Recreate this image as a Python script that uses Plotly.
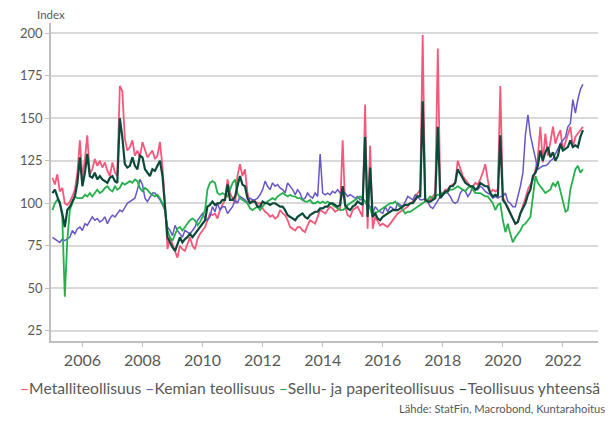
import pandas as pd
import plotly.graph_objects as go

start_month = "2005-01-01"

series_names = ["Metalliteollisuus", "Kemian teollisuus",
                "Sellu- ja paperiteollisuus", "Teollisuus yhteensä"]

metalli = [
    115, 111, 117, 107, 109, 100, 99, 101, 104, 108, 118, 137,
    115, 126, 140, 117, 120, 126, 122, 125, 121, 124, 119, 116,
    124, 118, 116, 169, 166, 138, 131, 133, 137, 128, 131, 127,
    136, 131, 127, 129, 131, 126, 128, 136, 121, 100, 73, 80,
    76, 72, 68, 75, 73, 72, 76, 80, 75, 73, 79, 82,
    84, 86, 90, 94, 93, 94, 91, 96, 99, 102, 114, 106,
    103, 100, 116, 123, 116, 120, 106, 100, 102, 101, 100, 100,
    97, 95, 94, 92, 93, 91, 92, 96, 94, 93, 90, 86,
    85, 84, 86, 86, 84, 83, 87, 90, 89, 88, 92, 96,
    95, 94, 96, 98, 97, 95, 96, 97, 137, 98, 93, 92,
    96, 97, 98, 95, 92, 158, 85, 134, 85, 92, 89, 87,
    88, 87, 86, 88, 90, 92, 94, 95, 96, 97, 98, 100,
    101, 104, 106, 108, 199, 102, 101, 102, 104, 106, 191, 106,
    106, 108, 108, 110, 111, 112, 125, 120, 116, 114, 112, 110,
    110, 112, 111, 114, 118, 123, 114, 106, 108, 107, 108, 169,
    104, 100, 98, 94, 91, 88, 89, 94, 98, 103, 108, 111,
    114, 120, 127, 145, 124, 141, 128, 136, 145, 135, 140, 143,
    131, 136, 141, 145, 133, 139, 141, 143, 145,
]

kemia = [
    80, 79, 78, 77, 79, 78, 79, 80, 84, 82, 85, 86,
    84, 88, 87, 90, 92, 90, 91, 89, 90, 92, 88, 91,
    93, 92, 94, 96, 95, 98, 100, 101, 102, 103, 108, 114,
    111, 103, 101, 104, 106, 106, 104, 102, 99, 96, 86, 84,
    81, 87, 84, 82, 80, 84, 83, 82, 84, 86, 90, 92,
    94, 91, 90, 92, 98, 95, 100, 96, 98, 98, 94, 96,
    98, 102, 100, 104, 103, 102, 100, 103, 102, 102, 103, 105,
    108, 113, 110, 108, 112, 110, 111, 109, 108, 106, 112, 110,
    108, 105, 108, 106, 102, 103, 106, 104, 103, 106, 104, 129,
    106, 105, 106, 105, 107, 106, 108, 106, 107, 106, 104, 105,
    104, 103, 104, 102, 103, 101, 100, 98, 94, 98, 96, 95,
    94, 98, 95, 98, 97, 96, 100, 99, 98, 101, 104, 103,
    102, 105, 104, 102, 102, 103, 101, 98, 97, 99, 102, 104,
    105, 106, 106, 104, 101, 100, 101, 106, 108, 107, 104, 106,
    110, 108, 108, 110, 109, 107, 106, 105, 103, 104, 103, 104,
    104, 106, 101, 100, 98, 98, 104, 110, 118, 140, 152, 140,
    133, 127, 120, 121, 122, 122, 123, 125, 126, 129, 132, 135,
    137, 139, 145, 147, 161, 153, 161, 167, 170,
]

sellu = [
    96, 100, 102, 101, 92, 45, 78, 96, 100, 104, 103, 103,
    103, 105, 104, 106, 104, 106, 108, 106, 107, 109, 110, 108,
    107, 110, 108, 109, 112, 111, 112, 113, 112, 114, 113, 109,
    107, 109, 108, 106, 105, 104, 105, 103, 100, 96, 84, 80,
    78, 82, 85, 86, 84, 86, 88, 90, 91, 90, 87, 89,
    92, 96, 108, 112, 113, 112, 106, 105, 106, 105, 104, 108,
    112, 114, 106, 103, 102, 101, 100, 97, 96, 97, 98, 96,
    98, 100, 101, 102, 103, 102, 104, 105, 106, 105, 104, 105,
    104, 104, 103, 103, 102, 101, 101, 102, 100, 100, 101, 100,
    101, 100, 101, 100, 99, 98, 97, 96, 96, 97, 99, 100,
    101, 102, 103, 104, 103, 101, 98, 97, 92, 94, 95, 96,
    97, 98, 99, 100, 100, 101, 99, 98, 96, 94, 95, 95,
    96, 97, 98, 99, 100, 101, 102, 104, 103, 104, 105, 105,
    106, 106, 107, 108, 108, 109, 110, 109, 108, 107, 109, 110,
    108, 106, 106, 106, 105, 104, 104, 102, 100, 96, 99, 100,
    90, 83, 88, 82, 77, 80, 82, 84, 87, 88, 90, 92,
    104, 116, 112, 110, 108, 106, 107, 108, 112, 110, 113, 107,
    100, 95, 96, 108, 114, 120, 122, 118, 120,
]

teollisuus = [
    106, 108, 104, 100, 94, 86, 96, 98, 101, 104, 112, 127,
    110, 118, 129, 116, 115, 118, 114, 116, 114, 113, 112, 115,
    116, 113, 112, 150, 139, 123, 121, 122, 127, 122, 120, 128,
    127, 120, 118, 116, 120, 119, 122, 125, 116, 100, 80, 77,
    74, 72, 76, 80, 77, 79, 80, 82, 80, 82, 84, 86,
    88, 90, 98, 99, 101, 99, 100, 100, 102, 102, 111, 102,
    102, 104, 110, 116, 111, 110, 103, 100, 101, 101, 98, 98,
    101, 100, 100, 99, 100, 100, 99, 98, 98, 96, 93, 92,
    91, 90, 92, 93, 94, 92, 91, 93, 94, 95, 95, 97,
    97, 98, 98, 100, 100, 99, 98, 99, 110, 99, 97, 96,
    98, 99, 101, 100, 99, 139, 92, 121, 92, 94, 91, 90,
    92, 93, 94, 95, 96, 96, 96, 97, 98, 99, 99, 100,
    100, 102, 104, 104, 160, 102, 101, 101, 102, 103, 145, 103,
    105, 107, 107, 110, 110, 112, 120, 117, 114, 112, 111, 110,
    110, 108, 109, 112, 111, 110, 110, 106, 104, 105, 104, 140,
    102, 100, 97, 94, 91, 88, 89, 94, 97, 100, 105, 108,
    116, 118, 122, 131, 125, 130, 133, 127, 130, 125, 128, 135,
    131, 132, 133, 137, 133, 134, 133, 139, 143,
]

y_ticks = [25, 50, 75, 100, 125, 150, 175, 200]
x_tick_years = ["2006", "2008", "2010", "2012", "2014", "2016", "2018", "2020", "2022"]
source_text = "Lähde: StatFin, Macrobond, Kuntarahoitus"

colors = ["#F5587A", "#6657C8", "#25B04B", "#0B4A3A"]
widths = [1.8, 1.5, 1.8, 2.2]

dates = pd.date_range(start_month, periods=len(metalli), freq="MS")

fig = go.Figure()
for name, vals, c, w in zip(series_names, [metalli, kemia, sellu, teollisuus], colors, widths):
    fig.add_trace(go.Scatter(x=dates, y=vals, mode="lines", name=name,
                             line=dict(color=c, width=w), showlegend=False))

font_family = "Lato, 'Open Sans', sans-serif"
grey = "#595959"

# page body has an 8px margin, so the figure is 8px smaller and margins shifted
fig.update_layout(
    width=608, height=413,
    margin=dict(l=36, r=18, t=15, b=80),
    paper_bgcolor="white", plot_bgcolor="white",
    font=dict(family=font_family, color=grey),
)
fig.update_xaxes(
    range=["2004-12-15", "2023-03-03"],
    tickvals=[f"{y}-01-01" for y in x_tick_years],
    ticktext=x_tick_years,
    tickfont=dict(size=16, color=grey),
    showgrid=False, showline=True, linecolor="#BFBFBF", linewidth=1.5,
    ticks="outside", ticklen=4, tickcolor="#BFBFBF",
)
fig.update_yaxes(
    range=[19, 206],
    tickvals=y_ticks,
    tickfont=dict(size=13, color=grey),
    showgrid=True, gridcolor="#D9D9D9", gridwidth=1.5,
    showline=True, linecolor="#BFBFBF", linewidth=1.5,
    ticks="outside", ticklen=4, tickcolor="#BFBFBF",
    zeroline=False,
)

legend_text = " ".join(
    f"<span style='color:{c}'>–</span>{n}" for n, c in zip(series_names, colors)
)
fig.add_annotation(text=legend_text, xref="paper", yref="paper",
                   x=-0.06, y=-0.148, xanchor="left", yanchor="middle",
                   showarrow=False, font=dict(size=15.7, color=grey, family=font_family))
fig.add_annotation(text=source_text, xref="paper", yref="paper",
                   x=1.016, y=-0.211, xanchor="right", yanchor="middle",
                   showarrow=False, font=dict(size=11.2, color=grey, family=font_family))
fig.add_annotation(text="Index", xref="paper", yref="paper",
                   x=0, y=1.028, xanchor="center", yanchor="middle",
                   showarrow=False, font=dict(size=11.5, color=grey, family=font_family))

fig.write_html("out.html")
